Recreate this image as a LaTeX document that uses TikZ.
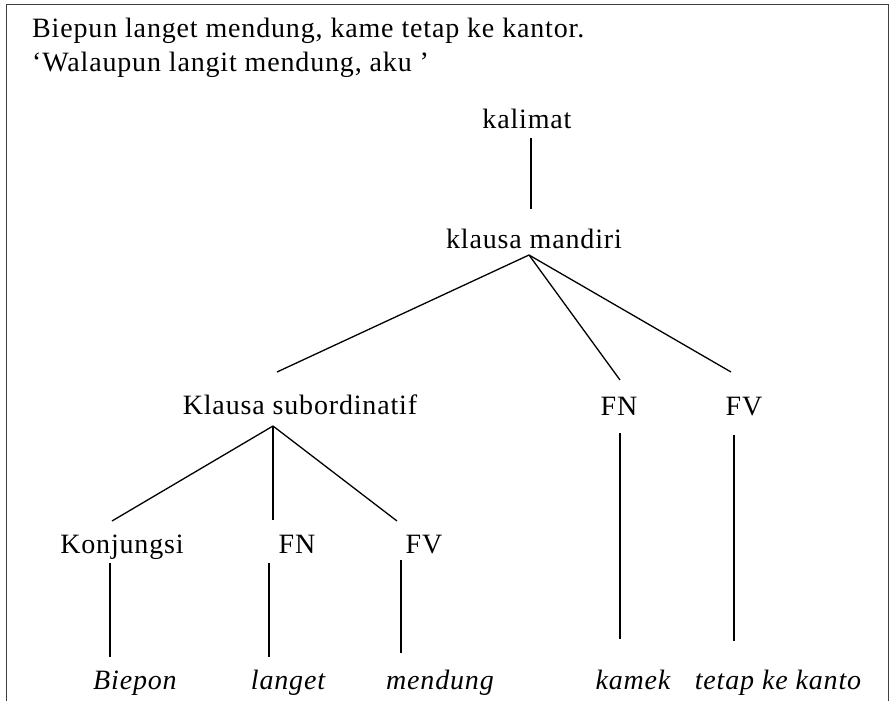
\documentclass[tikz,border=0pt]{standalone}
\usepackage{fontspec}
\setmainfont{Liberation Serif}[LetterSpace=3]
\begin{document}
\begin{tikzpicture}[x=1pt,y=-1pt,
  lbl/.style={inner sep=0pt, anchor=base, font=\fontsize{28}{32}\selectfont},
  leaf/.style={lbl, font=\fontsize{28}{32}\selectfont\itshape},
  title/.style={inner sep=0pt, anchor=base west, font=\fontsize{28}{32}\selectfont},
  branch/.style={line width=1.3pt, black},
  frame/.style={line width=1pt, black!75}]
\useasboundingbox (0,0) rectangle (894,701);
% open frame around the example
\draw[frame] (6,701) -- (6,5) -- (888,5) -- (888,701);
% example sentence and its gloss
\node[title] (t1) at (32,38) {Biepun langet mendung, kame tetap ke kantor.};
\node[title] (t2) at (32,72) {`Walaupun langit mendung, aku '};
% tree labels
\node[lbl] (kal) at (527,128) {kalimat};
\node[lbl] (km)  at (534,248) {klausa mandiri};
\node[lbl] (ks)  at (300,414) {Klausa subordinatif};
\node[lbl] (fna) at (619,415) {FN};
\node[lbl] (fva) at (744,415) {FV};
\node[lbl] (kon) at (122,553) {Konjungsi};
\node[lbl] (fnb) at (297,553) {FN};
\node[lbl] (fvb) at (424,553) {FV};
% words
\node[leaf] (w1) at (135,689) {Biepon};
\node[leaf] (w2) at (288,689) {langet};
\node[leaf] (w3) at (440,689) {mendung};
\node[leaf] (w4) at (633,689) {kamek};
\node[leaf] (w5) at (778,689) {tetap ke kanto};
% branches
\draw[branch] ([shift={(4,10)}]kal.base) -- ([shift={(-3,-39)}]km.base);
\draw[branch] ([shift={(-5,7)}]km.base) -- ([shift={(-23,-42)}]ks.base);
\draw[branch] ([shift={(-5,7)}]km.base) -- ([shift={(1,-35)}]fna.base);
\draw[branch] ([shift={(-5,7)}]km.base) -- ([shift={(-13,-43)}]fva.base);
\draw[branch] ([shift={(-27,12)}]ks.base) -- ([shift={(-10,-32)}]kon.base);
\draw[branch] ([shift={(-27,12)}]ks.base) -- ([shift={(-24,-33)}]fnb.base);
\draw[branch] ([shift={(-27,12)}]ks.base) -- ([shift={(-27,-32)}]fvb.base);
\draw[branch] ([shift={(1,18)}]fna.base) -- ([shift={(-13,-50)}]w4.base);
\draw[branch] ([shift={(-10,20)}]fva.base) -- ([shift={(-44,-48)}]w5.base);
\draw[branch] ([shift={(-12,10)}]kon.base) -- ([shift={(-25,-32)}]w1.base);
\draw[branch] ([shift={(-28,10)}]fnb.base) -- ([shift={(-19,-32)}]w2.base);
\draw[branch] ([shift={(-23,7)}]fvb.base) -- ([shift={(-39,-36)}]w3.base);
\end{tikzpicture}
\end{document}
